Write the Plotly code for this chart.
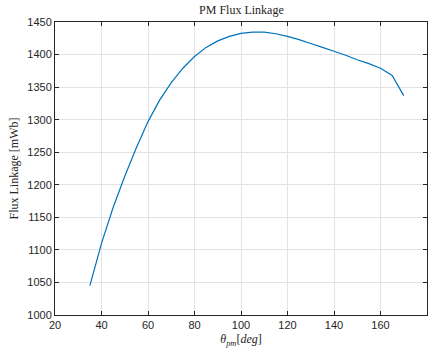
import plotly.graph_objects as go

theta = [35, 40, 45, 50, 55, 60, 65, 70, 75, 80, 85, 90, 95, 100, 105, 110, 115,
         120, 125, 130, 135, 140, 145, 150, 155, 160, 165, 170]
flux = [1045, 1110, 1165, 1213, 1257, 1297, 1330, 1357, 1379, 1397, 1411, 1421,
        1428, 1432.5, 1434.5, 1434.5, 1432, 1428, 1423, 1417, 1411, 1405, 1399,
        1392, 1386, 1379, 1368, 1337]
x_ticks = [20, 40, 60, 80, 100, 120, 140, 160, 180]
y_ticks = [1000, 1050, 1100, 1150, 1200, 1250, 1300, 1350, 1400, 1450]

fig = go.Figure()
fig.add_trace(go.Scatter(x=theta, y=flux, mode="lines",
                         line=dict(color="#0072BD", width=1.2, simplify=False),
                         showlegend=False))

axis_common = dict(
    showline=True, linecolor="#262626", linewidth=1, mirror="ticks",
    ticks="inside", ticklen=4, tickcolor="#262626",
    showgrid=True, gridcolor="#e3e3e3", gridwidth=1, zeroline=False,
    tickfont=dict(family="Liberation Sans, Arial", size=11, color="#262626"),
)

fig.update_layout(
    width=435, height=358,
    margin=dict(l=55, r=8, t=22, b=43),
    paper_bgcolor="white", plot_bgcolor="white",
    title=dict(text="PM Flux Linkage", x=0.555, xanchor="center", y=0.985, yanchor="top",
               font=dict(family="Liberation Serif, Times New Roman", size=12, color="#262626")),
    xaxis=dict(range=[20, 180], tickvals=x_ticks, **axis_common,
               title=dict(text="<i>θ</i><sub><i>pm</i></sub>[<i>deg</i>]", standoff=4,
                          font=dict(family="Liberation Serif, Times New Roman", size=12, color="#262626"))),
    yaxis=dict(range=[1000, 1450], tickvals=y_ticks, **axis_common,
               title=dict(text="Flux Linkage [mWb]", standoff=6,
                          font=dict(family="Liberation Serif, Times New Roman", size=12, color="#262626"))),
)

fig.write_html("out.html")
